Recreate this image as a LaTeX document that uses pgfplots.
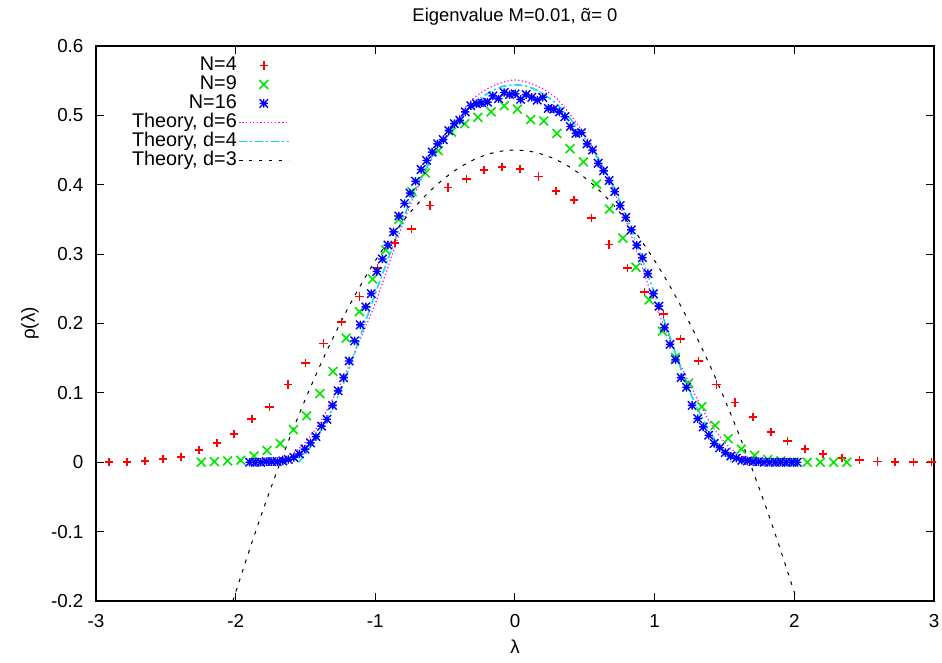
\documentclass[border=0pt]{standalone}
\usepackage{pgfplots}
\pgfplotsset{compat=1.18}
\usepackage{fontspec}
\setmainfont{Liberation Sans}
\definecolor{gpred}{RGB}{255,0,0}
\definecolor{gpgreen}{RGB}{0,230,0}
\definecolor{gpblue}{RGB}{0,0,255}
\definecolor{gpmag}{RGB}{255,0,255}
\definecolor{gpcyan}{RGB}{0,225,225}
\pgfdeclareplotmark{gpstar}{%
\pgfpathmoveto{\pgfqpoint{-\pgfplotmarksize}{0pt}}\pgfpathlineto{\pgfqpoint{\pgfplotmarksize}{0pt}}%
\pgfpathmoveto{\pgfqpoint{0pt}{-\pgfplotmarksize}}\pgfpathlineto{\pgfqpoint{0pt}{\pgfplotmarksize}}%
\pgfpathmoveto{\pgfqpoint{-\pgfplotmarksize}{-\pgfplotmarksize}}\pgfpathlineto{\pgfqpoint{\pgfplotmarksize}{\pgfplotmarksize}}%
\pgfpathmoveto{\pgfqpoint{-\pgfplotmarksize}{\pgfplotmarksize}}\pgfpathlineto{\pgfqpoint{\pgfplotmarksize}{-\pgfplotmarksize}}%
\pgfusepathqstroke}
\pgfdeclareplotmark{gpplus}{%
\pgfpathmoveto{\pgfqpoint{-\pgfplotmarksize}{0pt}}\pgfpathlineto{\pgfqpoint{\pgfplotmarksize}{0pt}}%
\pgfpathmoveto{\pgfqpoint{0pt}{-\pgfplotmarksize}}\pgfpathlineto{\pgfqpoint{0pt}{\pgfplotmarksize}}%
\pgfusepathqstroke}
\pgfdeclareplotmark{gpcross}{%
\pgfpathmoveto{\pgfqpoint{-\pgfplotmarksize}{-\pgfplotmarksize}}\pgfpathlineto{\pgfqpoint{\pgfplotmarksize}{\pgfplotmarksize}}%
\pgfpathmoveto{\pgfqpoint{-\pgfplotmarksize}{\pgfplotmarksize}}\pgfpathlineto{\pgfqpoint{\pgfplotmarksize}{-\pgfplotmarksize}}%
\pgfusepathqstroke}
\newcommand{\atilde}{{\ooalign{α\cr\hidewidth\char"02DC\hidewidth\cr}}}
\begin{document}
\fontsize{9.2}{11}\selectfont
\begin{tikzpicture}
\begin{axis}[
 scale only axis, width=419pt, height=277.5pt,
 xmin=-3, xmax=3, ymin=-0.2, ymax=0.6,
 xtick={-3,-2,-1,0,1,2,3}, xticklabels={-3,-2,-1,0,1,2,3},
 ytick={-0.2,-0.1,0,0.1,0.2,0.3,0.4,0.5,0.6},
 yticklabels={-0.2,-0.1,0,0.1,0.2,0.3,0.4,0.5,0.6},
 tick align=inside, major tick length=4pt,
 tick style={black, line width=0.5pt},
 axis line style={line width=0.6pt},
 xticklabel style={anchor=center, yshift=-10pt},
 yticklabel style={anchor=east, xshift=-3pt},
 every tick label/.append style={font=\fontsize{9.4}{11}\selectfont},
 title={Eigenvalue M=0.01, \atilde= 0},
 title style={at={(axis description cs:0.5,1.0305)}, anchor=center, font=\fontsize{9.2}{11}\selectfont},
 xlabel={λ}, xlabel style={at={(axis description cs:0.5,-0.083)}, anchor=center, font=\fontsize{9.4}{11}\selectfont},
 ylabel={ρ(λ)}, ylabel style={at={(axis description cs:-0.0788,0.5)}, anchor=center, font=\fontsize{9.4}{11}\selectfont},
 legend plot pos=right, legend cell align=right,
 legend style={draw=none, fill=none, at={(axis description cs:0.2387,0.99)}, anchor=north east,
   row sep=0pt, font=\fontsize{9.9}{11}\selectfont,
   nodes={inner sep=0.6pt, text height=6.6pt, text depth=1.7pt}},
 legend image code/.code={\draw[mark repeat=2,mark phase=2,#1] plot coordinates {(0pt,0pt)(12.5pt,0pt)(25pt,0pt)};},
]
\addplot[only marks, mark=gpplus, mark size=2.1pt, color=gpred, mark options={draw=gpred}, line width=0.8pt] coordinates {
(-2.905,0.000)(-2.778,0.000)(-2.649,0.002)(-2.522,0.005)(-2.391,0.008)(-2.264,0.018)(-2.135,0.028)(-2.012,0.041)(-1.885,0.062)(-1.759,0.080)(-1.626,0.112)(-1.500,0.143)(-1.372,0.171)(-1.243,0.202)(-1.114,0.239)(-0.983,0.280)(-0.859,0.316)(-0.740,0.336)(-0.609,0.370)(-0.478,0.396)(-0.346,0.408)(-0.220,0.421)(-0.091,0.426)(0.036,0.423)(0.167,0.412)(0.294,0.391)(0.422,0.378)(0.549,0.352)(0.675,0.314)(0.804,0.280)(0.926,0.245)(1.062,0.214)(1.186,0.178)(1.315,0.146)(1.444,0.112)(1.575,0.086)(1.702,0.065)(1.831,0.044)(1.950,0.031)(2.078,0.019)(2.207,0.012)(2.339,0.006)(2.465,0.003)(2.594,0.001)(2.721,0.000)(2.852,0.000)(2.983,0.000)};
\addlegendentry{N=4\hspace{5pt}}
\addplot[only marks, mark=gpcross, mark size=2.2pt, color=gpgreen, mark options={draw=gpgreen}, line width=0.8pt] coordinates {
(-2.246,0.000)(-2.152,0.001)(-2.057,0.002)(-1.963,0.003)(-1.869,0.009)(-1.775,0.017)(-1.680,0.027)(-1.586,0.047)(-1.492,0.067)(-1.397,0.099)(-1.303,0.131)(-1.209,0.179)(-1.114,0.217)(-1.020,0.264)(-0.926,0.306)(-0.832,0.350)(-0.737,0.390)(-0.643,0.417)(-0.549,0.449)(-0.454,0.476)(-0.360,0.488)(-0.266,0.497)(-0.171,0.505)(-0.077,0.514)(0.017,0.509)(0.112,0.494)(0.206,0.492)(0.300,0.474)(0.394,0.452)(0.489,0.433)(0.583,0.401)(0.677,0.365)(0.772,0.323)(0.866,0.281)(0.960,0.234)(1.055,0.189)(1.149,0.151)(1.243,0.114)(1.337,0.080)(1.432,0.053)(1.526,0.034)(1.620,0.019)(1.715,0.010)(1.809,0.004)(1.903,0.002)(1.998,0.000)(2.092,0.000)(2.186,0.000)(2.281,0.000)(2.375,0.000)};
\addlegendentry{N=9\hspace{5pt}}
\addplot[only marks, mark=gpstar, mark size=2.1pt, color=gpblue, mark options={draw=gpblue}, line width=0.7pt] coordinates {
(-1.900,0.000)(-1.860,0.000)(-1.821,0.000)(-1.781,0.001)(-1.742,0.001)(-1.702,0.001)(-1.662,0.002)(-1.623,0.004)(-1.583,0.007)(-1.544,0.012)(-1.504,0.019)(-1.464,0.028)(-1.425,0.037)(-1.385,0.052)(-1.346,0.062)(-1.306,0.082)(-1.266,0.103)(-1.227,0.122)(-1.187,0.146)(-1.148,0.175)(-1.108,0.198)(-1.068,0.224)(-1.029,0.243)(-0.989,0.275)(-0.950,0.293)(-0.910,0.313)(-0.870,0.332)(-0.831,0.355)(-0.791,0.373)(-0.752,0.388)(-0.712,0.405)(-0.672,0.422)(-0.633,0.435)(-0.593,0.447)(-0.554,0.459)(-0.514,0.465)(-0.474,0.478)(-0.435,0.488)(-0.395,0.493)(-0.356,0.505)(-0.316,0.514)(-0.276,0.517)(-0.237,0.518)(-0.197,0.519)(-0.158,0.528)(-0.118,0.524)(-0.078,0.533)(-0.039,0.530)(0.001,0.531)(0.040,0.523)(0.080,0.530)(0.120,0.526)(0.159,0.522)(0.199,0.526)(0.238,0.510)(0.278,0.509)(0.318,0.505)(0.357,0.498)(0.397,0.484)(0.436,0.474)(0.476,0.475)(0.516,0.459)(0.555,0.450)(0.595,0.431)(0.634,0.420)(0.674,0.406)(0.714,0.390)(0.753,0.370)(0.793,0.353)(0.832,0.335)(0.872,0.313)(0.912,0.295)(0.951,0.272)(0.991,0.243)(1.030,0.225)(1.070,0.194)(1.110,0.170)(1.149,0.148)(1.189,0.122)(1.228,0.108)(1.268,0.082)(1.308,0.063)(1.347,0.051)(1.387,0.039)(1.426,0.027)(1.466,0.021)(1.506,0.014)(1.545,0.009)(1.585,0.006)(1.624,0.003)(1.664,0.002)(1.704,0.001)(1.743,0.001)(1.783,0.000)(1.822,0.000)(1.862,0.000)(1.902,0.000)(1.941,0.000)(1.981,0.000)(2.020,0.000)};
\addlegendentry{N=16\hspace{5pt}}
\addplot[gpmag, line width=0.6pt, dash pattern=on 0.6pt off 1.2pt, smooth] coordinates {
(-1.8,0.000)(-1.7,0.003)(-1.6,0.011)(-1.5,0.029)(-1.4,0.056)(-1.3,0.093)(-1.2,0.134)(-1.1,0.181)(-1.0,0.229)(-0.9,0.287)(-0.8,0.345)(-0.7,0.395)(-0.6,0.438)(-0.5,0.472)(-0.4,0.500)(-0.3,0.524)(-0.2,0.538)(-0.1,0.547)(0,0.551)(0.1,0.547)(0.2,0.538)(0.3,0.524)(0.4,0.500)(0.5,0.472)(0.6,0.438)(0.7,0.395)(0.8,0.345)(0.9,0.287)(1.0,0.229)(1.1,0.181)(1.2,0.134)(1.3,0.093)(1.4,0.056)(1.5,0.029)(1.6,0.011)(1.7,0.003)(1.8,0.000)};
\addlegendentry{Theory, d=6\hspace{5pt}}
\addplot[gpcyan, line width=0.8pt, dash pattern=on 4pt off 1.5pt on 1pt off 1.5pt, smooth] coordinates {
(-1.55,0.000)(-1.5,0.012)(-1.4,0.042)(-1.3,0.080)(-1.2,0.128)(-1.1,0.186)(-1.0,0.243)(-0.9,0.298)(-0.8,0.352)(-0.7,0.399)(-0.6,0.436)(-0.5,0.466)(-0.4,0.494)(-0.3,0.516)(-0.2,0.531)(-0.1,0.541)(0,0.544)(0.1,0.541)(0.2,0.531)(0.3,0.516)(0.4,0.494)(0.5,0.466)(0.6,0.436)(0.7,0.399)(0.8,0.352)(0.9,0.298)(1.0,0.243)(1.1,0.186)(1.2,0.128)(1.3,0.080)(1.4,0.042)(1.5,0.012)(1.55,0.000)};
\addlegendentry{Theory, d=4\hspace{5pt}}
\addplot[black, line width=0.5pt, dash pattern=on 1.8pt off 3.2pt, smooth] coordinates {
(-2.02,-0.200)(-1.9,-0.1257)(-1.8,-0.0666)(-1.7,-0.0108)(-1.6,0.0418)(-1.5,0.0912)(-1.4,0.1375)(-1.3,0.1805)(-1.2,0.2204)(-1.1,0.2571)(-1.0,0.2905)(-0.9,0.3208)(-0.8,0.3479)(-0.7,0.3719)(-0.6,0.3926)(-0.5,0.4101)(-0.4,0.4245)(-0.3,0.4356)(-0.2,0.4436)(-0.1,0.4484)(0,0.4500)(0.1,0.4484)(0.2,0.4436)(0.3,0.4356)(0.4,0.4245)(0.5,0.4101)(0.6,0.3926)(0.7,0.3719)(0.8,0.3479)(0.9,0.3208)(1.0,0.2905)(1.1,0.2571)(1.2,0.2204)(1.3,0.1805)(1.4,0.1375)(1.5,0.0912)(1.6,0.0418)(1.7,-0.0108)(1.8,-0.0666)(1.9,-0.1257)(2.02,-0.200)};
\addlegendentry{Theory, d=3\hspace{5pt}}
\coordinate (bl) at (axis cs:-3.687,-0.2879);
\coordinate (tr) at (axis cs:3.057,0.6663);
\end{axis}
\pgfresetboundingbox
\path[use as bounding box] (bl) rectangle (tr);
\end{tikzpicture}
\end{document}
